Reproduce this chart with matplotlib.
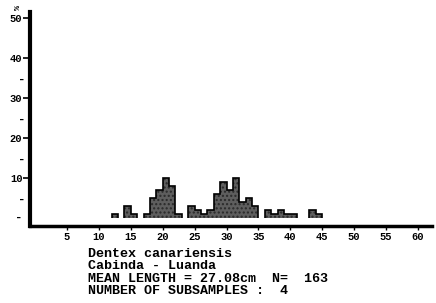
import matplotlib
matplotlib.use("Agg")
import matplotlib.pyplot as plt
import numpy as np

# Length classes (cm, lower bin edge) and frequencies
length_cm = [12, 13, 14, 15, 16, 17, 18, 19, 20, 21, 22, 23, 24, 25, 26, 27, 28, 29,
             30, 31, 32, 33, 34, 35, 36, 37, 38, 39, 40, 41, 42, 43, 44]
frequency = [1, 0, 3, 1, 0, 1, 5, 7, 10, 8, 1, 0, 3, 2, 1, 2, 6, 9,
             7, 10, 4, 5, 3, 0, 2, 1, 2, 1, 1, 0, 0, 2, 1]

x_ticks = [5, 10, 15, 20, 25, 30, 35, 40, 45, 50, 55, 60]
y_ticks = [10, 20, 30, 40, 50]
y_minor = [5, 15, 25, 35]

caption = ["Dentex canariensis",
           "Cabinda - Luanda",
           "MEAN LENGTH = 27.08cm  N=  163",
           "NUMBER OF SUBSAMPLES :  4"]

W, H = 436, 303
fig = plt.figure(figsize=(W / 100, H / 100), dpi=100)
ax = fig.add_axes([30 / W, (H - 226) / H, (432 - 30) / W, (226 - 12) / H])

lc = np.array(length_cm, dtype=float)
fv = np.array(frequency, dtype=float)
# draw each contiguous run of non-empty classes as one outlined block
i = 0
n = len(fv)
while i < n:
    if fv[i] > 0:
        j = i
        while j < n and fv[j] > 0:
            j += 1
        edges = np.append(lc[i:j], lc[j - 1] + 1)
        ax.stairs(fv[i:j], edges, fill=True, color="#5e5e5e", hatch="....",
                  edgecolor="#2a2a2a", linewidth=0)
        ax.stairs(fv[i:j], edges, fill=False, color="black", linewidth=1.2, baseline=0)
        i = j
    else:
        i += 1

ax.set_xlim(-0.8, 62.2)
ax.set_ylim(-2, 51.5)

for s in ["top", "right"]:
    ax.spines[s].set_visible(False)
ax.spines["left"].set_linewidth(3)
ax.spines["bottom"].set_linewidth(2.5)

mono = "Liberation Mono"
ax.set_xticks(x_ticks)
ax.set_xticklabels([str(v) for v in x_ticks], fontfamily=mono, fontweight="bold", fontsize=7.5)
ax.tick_params(axis="x", length=3, width=1, pad=1, direction="out")

ax.set_yticks(y_ticks)
ax.set_yticklabels([str(v) for v in y_ticks], fontfamily=mono, fontweight="bold", fontsize=7.5)
ax.tick_params(axis="y", length=5, width=1.2, pad=0.5, direction="out")
ax.set_yticks(y_minor, minor=True)
ax.set_yticklabels(["-"] * len(y_minor), minor=True, fontfamily=mono, fontweight="bold", fontsize=9)
ax.tick_params(axis="y", which="minor", length=0, pad=3)
# zero-level dash
ax.text(-0.8, 0, "- ", transform=ax.transData, ha="right", va="center",
        fontfamily=mono, fontweight="bold", fontsize=9)

fig.text(18 / W, 1 - 8 / H, "%", fontfamily=mono, fontweight="bold", fontsize=6,
         ha="center", va="center", rotation=90)

ys = [254, 266, 279, 291]
for line, y in zip(caption, ys):
    fig.text(88 / W, 1 - y / H, line, fontfamily=mono, fontweight="bold",
             fontsize=9.6, ha="left", va="center")

fig.savefig("out.png", dpi=100)
